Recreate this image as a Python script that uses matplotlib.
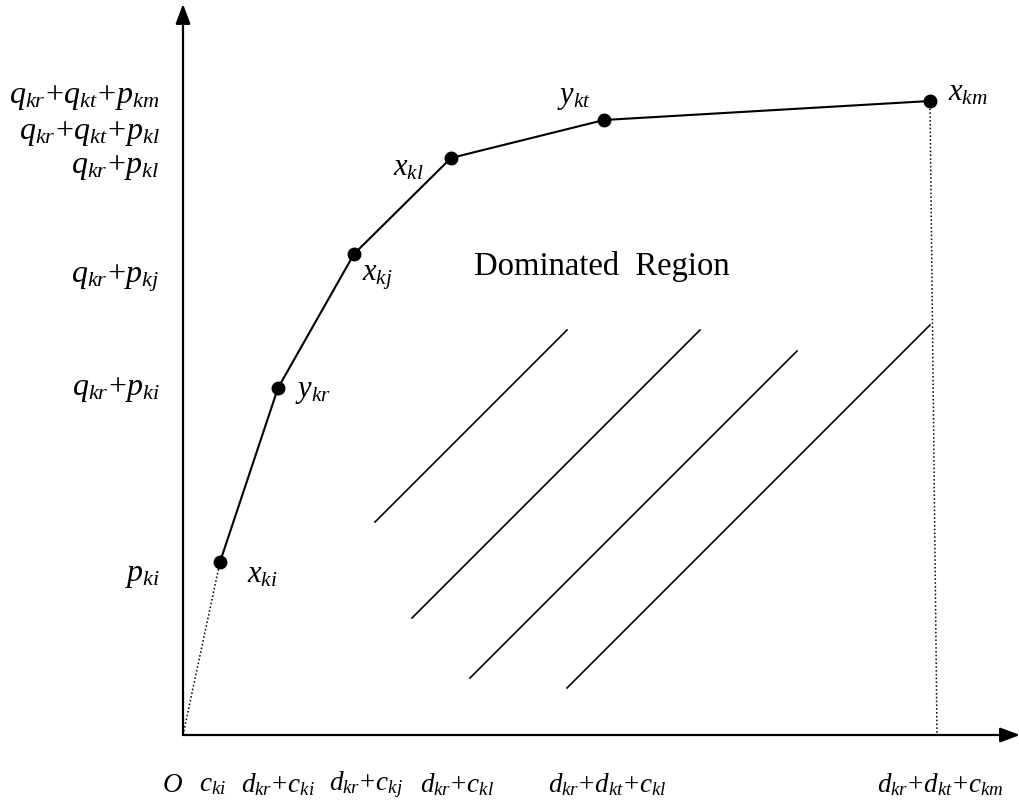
import matplotlib
matplotlib.use("Agg")
import matplotlib.pyplot as plt

plt.rcParams["mathtext.fontset"] = "custom"
plt.rcParams["mathtext.it"] = "Liberation Serif:italic"
plt.rcParams["mathtext.rm"] = "Liberation Serif"
plt.rcParams["font.family"] = "Liberation Serif"

# frontier points (schematic units, origin at O)
pt_x = [37, 95, 171, 268, 421, 747]
pt_y = [173, 347, 481, 577, 615, 634]
pt_names = ["x_{ki}", "y_{kr}", "x_{kj}", "x_{kl}", "y_{kt}", "x_{km}"]

# axis tick labels
x_ticks = [-11, 30, 95, 183, 274, 424, 757]
x_labels = ["O", "c_{ki}", "d_{kr}\\!+\\!c_{ki}", "d_{kr}\\!+\\!c_{kj}", "d_{kr}\\!+\\!c_{kl}",
            "d_{kr}\\!+\\!d_{kt}\\!+\\!c_{kl}", "d_{kr}\\!+\\!d_{kt}\\!+\\!c_{km}"]
y_ticks = [637, 602, 568, 457, 345, 160]
y_labels = ["q_{kr}\\!+\\!q_{kt}\\!+\\!p_{km}", "q_{kr}\\!+\\!q_{kt}\\!+\\!p_{kl}",
            "q_{kr}\\!+\\!p_{kl}", "q_{kr}\\!+\\!p_{kj}", "q_{kr}\\!+\\!p_{ki}", "p_{ki}"]

# hatch segments in the dominated region
hatch_x0 = [192, 229, 287, 384]
hatch_y0 = [213, 117, 57, 47]
hatch_x1 = [384, 517, 614, 747]
hatch_y1 = [405, 405, 384, 410]

fig = plt.figure(figsize=(10.2, 8.06), dpi=100)
ax = fig.add_axes([0, 0, 1, 1])
ax.set_xlim(-183, 1020 - 183)
ax.set_ylim(-(806 - 735), 735)
ax.axis("off")

# axes with arrows
arrow = dict(arrowstyle="-|>,head_length=1.2,head_width=0.45", color="black", lw=1.6,
             shrinkA=0, shrinkB=0)
ax.annotate("", xy=(837, 0), xytext=(0, 0), arrowprops=arrow)
ax.annotate("", xy=(0, 731), xytext=(0, 0), arrowprops=arrow)

# dotted guides
ax.plot([0, pt_x[0]], [0, pt_y[0]], color="black", ls=(0, (1, 1.5)), lw=1.1)
ax.plot([pt_x[-1], pt_x[-1] + 7], [pt_y[-1], 0], color="black", ls=(0, (1, 1.5)), lw=1.1)

# frontier
ax.plot(pt_x, pt_y, color="black", lw=1.5, marker="o", ms=9)

# label offsets (left edge, vertical centre) relative to each point
labels_off = [(27, -13), (17, -3), (8, -24), (-58, -10), (-47, 23), (18, 8)]
for x, y, n, (dx, dy) in zip(pt_x, pt_y, pt_names, labels_off):
    ax.text(x + dx, y + dy, f"${n}$", fontsize=22, va="center", ha="left")

for x0, y0, x1, y1 in zip(hatch_x0, hatch_y0, hatch_x1, hatch_y1):
    ax.plot([x0, x1], [y0, y1], color="black", lw=1.2)

ax.text(419, 468, "Dominated  Region", fontsize=23.5, ha="center", va="center")

for x, lab in zip(x_ticks, x_labels):
    ax.text(x, -50, f"${lab}$", fontsize=19.5, ha="center", va="center")
for y, lab in zip(y_ticks, y_labels):
    ax.text(-23, y, f"${lab}$", fontsize=23, ha="right", va="center")

fig.savefig("out.png", dpi=100)
